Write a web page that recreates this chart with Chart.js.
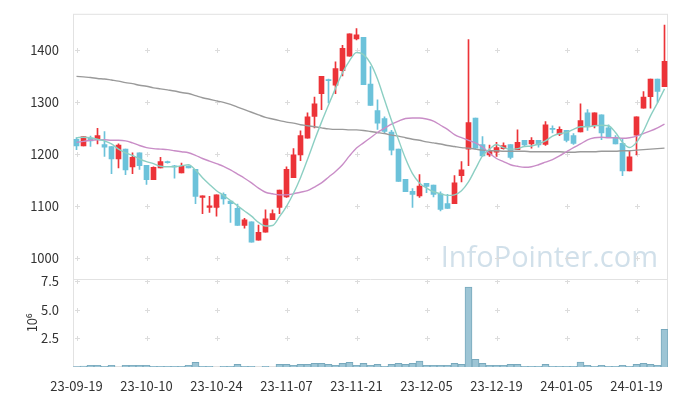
<!DOCTYPE html>
<html>
<head>
<meta charset="utf-8">
<script src="https://cdn.jsdelivr.net/npm/chart.js@4.4.0/dist/chart.umd.min.js"></script>
<style>
    html, body { margin: 0; padding: 0; background: #fff; }
    #wrap { width: 677px; height: 396px; }
</style>
</head>
<body>
<div id="wrap"><canvas id="grafico" width="677" height="396"></canvas></div>
<script>
var dates = ['23-09-19','23-09-20','23-09-21','23-09-22','23-09-25','23-09-26','23-09-27','23-10-04','23-10-05','23-10-06',
    '23-10-10','23-10-11','23-10-12','23-10-13','23-10-16','23-10-17','23-10-18','23-10-19','23-10-20','23-10-23',
    '23-10-24','23-10-25','23-10-26','23-10-27','23-10-30','23-10-31','23-11-01','23-11-02','23-11-03','23-11-06',
    '23-11-07','23-11-08','23-11-09','23-11-10','23-11-13','23-11-14','23-11-15','23-11-16','23-11-17','23-11-20',
    '23-11-21','23-11-22','23-11-23','23-11-24','23-11-27','23-11-28','23-11-29','23-11-30','23-12-01','23-12-04',
    '23-12-05','23-12-06','23-12-07','23-12-08','23-12-11','23-12-12','23-12-13','23-12-14','23-12-15','23-12-18',
    '23-12-19','23-12-20','23-12-21','23-12-22','23-12-26','23-12-27','23-12-28','24-01-02','24-01-03','24-01-04',
    '24-01-05','24-01-08','24-01-09','24-01-10','24-01-11','24-01-12','24-01-15','24-01-16','24-01-17','24-01-18',
    '24-01-19','24-01-22','24-01-23','24-01-24','24-01-25'];

var opens = [1229,1216,1231,1228,1219,1215,1191,1210,1176,1203,
    1179,1151,1174,1186,1178,1164,1177,1171,1117,1098,
    1098,1123,1110,1096,1063,1070,1035,1050,1074,1098,
    1118,1155,1199,1231,1273,1317,1344,1333,1361,1389,
    1422,1425,1335,1284,1269,1243,1210,1152,1129,1120,
    1144,1141,1124,1105,1105,1159,1210,1270,1219,1199,
    1204,1211,1219,1209,1227,1220,1227,1219,1250,1239,
    1246,1236,1243,1280,1255,1276,1251,1232,1221,1168,
    1237,1289,1311,1345,1330];
var highs = [1232,1234,1235,1250,1244,1215,1220,1210,1203,1203,
    1179,1176,1194,1187,1179,1183,1178,1171,1120,1119,
    1122,1126,1110,1104,1077,1070,1064,1093,1093,1131,
    1176,1211,1245,1280,1310,1350,1345,1378,1410,1432,
    1442,1425,1369,1305,1272,1246,1210,1152,1134,1161,
    1144,1141,1128,1123,1159,1186,1421,1270,1234,1218,
    1223,1222,1219,1247,1227,1232,1227,1263,1255,1253,
    1246,1240,1297,1286,1280,1276,1257,1236,1229,1206,
    1272,1321,1345,1345,1449];
var lows = [1209,1216,1215,1220,1196,1163,1174,1161,1163,1171,
    1142,1151,1174,1183,1154,1164,1174,1105,1086,1088,
    1081,1104,1069,1063,1058,1031,1035,1050,1074,1086,
    1117,1155,1188,1231,1251,1286,1299,1317,1351,1389,
    1420,1334,1294,1248,1240,1199,1148,1128,1098,1117,
    1126,1118,1091,1096,1105,1147,1178,1210,1196,1196,
    1196,1210,1191,1209,1216,1212,1214,1217,1241,1236,
    1224,1219,1243,1246,1251,1228,1234,1220,1159,1168,
    1199,1289,1289,1300,1330];
var closes = [1216,1234,1226,1236,1214,1191,1218,1170,1194,1178,
    1151,1175,1186,1184,1176,1177,1174,1119,1120,1101,
    1122,1114,1105,1063,1074,1031,1050,1076,1086,1131,
    1171,1199,1236,1272,1297,1350,1342,1365,1404,1432,
    1430,1334,1294,1260,1244,1208,1148,1128,1123,1139,
    1138,1123,1094,1096,1145,1170,1261,1212,1197,1206,
    1213,1217,1194,1223,1218,1227,1218,1257,1248,1248,
    1227,1221,1265,1255,1280,1241,1234,1220,1168,1195,
    1272,1310,1345,1321,1379];

// volume in millions (10^6)
var volumes = [0.04,0.09,0.14,0.14,0.06,0.14,0,0.14,0.14,0.14,
    0.14,0.06,0.06,0.06,0.06,0.06,0.14,0.40,0.06,0.06,
    0,0.06,0.06,0.23,0.06,0.06,0,0.06,0,0.23,
    0.23,0.14,0.23,0.23,0.32,0.32,0.23,0.14,0.32,0.40,
    0.14,0.32,0.14,0.23,0.06,0.23,0.32,0.23,0.32,0.52,
    0.14,0.14,0.14,0.14,0.32,0.23,6.98,0.66,0.32,0.14,
    0.14,0.14,0.23,0.23,0.06,0.06,0.06,0.23,0.06,0.06,
    0.06,0.06,0.43,0.14,0.06,0.14,0.06,0.06,0.14,0.06,
    0.23,0.32,0.23,0.14,3.28];

// moving averages
var ma5 = [1232,1233,1232,1229,1226,1220,1210,1203,1198,1191,
    1186,1182,1177,1176,1176,1178,1180,1170,1155,1142,
    1130,1121,1111,1101,1091,1081,1069,1062,1063,1080,
    1100,1125,1155,1190,1227,1262,1295,1327,1357,1380,
    1396,1392,1375,1345,1305,1265,1228,1192,1163,1145,
    1135,1128,1124,1121,1122,1130,1147,1172,1197,1210,
    1219,1213,1210,1211,1215,1216,1220,1226,1235,1240,
    1242,1248,1253,1253,1255,1256,1255,1242,1223,1213,
    1223,1245,1274,1299,1326];
var ma20 = [1223,1225,1227,1228,1228,1227,1227,1226,1222,1217,
    1213,1211,1210,1209,1207,1205,1203,1198,1192,1187,
    1182,1177,1170,1162,1154,1145,1135,1127,1124,1122,
    1122,1124,1127,1130,1137,1145,1156,1167,1180,1197,
    1212,1222,1232,1242,1250,1258,1264,1269,1270,1270,
    1268,1264,1256,1248,1238,1232,1227,1222,1214,1202,
    1192,1186,1180,1177,1175,1176,1180,1185,1190,1197,
    1205,1213,1220,1228,1232,1233,1232,1232,1231,1232,
    1235,1240,1245,1251,1258];
var ma120 = [1350,1349,1348,1346,1345,1343,1341,1338,1336,1333,
    1331,1328,1326,1324,1322,1319,1317,1313,1309,1306,
    1303,1300,1296,1291,1286,1281,1276,1271,1268,1265,
    1262,1260,1257,1255,1253,1251,1249,1248,1248,1247,
    1247,1246,1244,1242,1240,1237,1235,1232,1229,1227,
    1224,1222,1220,1217,1215,1213,1212,1210,1208,1207,
    1207,1206,1206,1206,1206,1205,1205,1205,1205,1205,
    1204,1204,1205,1205,1205,1206,1206,1206,1207,1207,
    1208,1209,1210,1211,1212];

var priceTicks = [1000, 1100, 1200, 1300, 1400];
var volumeTicks = [2.5, 5.0, 7.5];

var corAlta = '#ec3338';
var corBaixa = '#6cc2da';

var cores = closes.map(function (c, i) { return c >= opens[i] ? corAlta : corBaixa; });
var corpos = opens.map(function (o, i) { return [o, closes[i]]; });
var pavios = lows.map(function (l, i) { return [l, highs[i]]; });

var fonte = '"Noto Sans CJK KR", "Noto Sans", sans-serif';

// border, separator, cross-shaped grid and watermark
var moldura = {
    id: 'moldura',
    beforeDatasetsDraw: function (chart) {
        var ctx = chart.ctx;
        var a = chart.chartArea;
        var sx = chart.scales.x, sy = chart.scales.y, sv = chart.scales.yv;
        ctx.save();

        ctx.fillStyle = 'rgba(184, 208, 222, 0.65)';
        ctx.font = '30px "Open Sans"';
        var w = ctx.measureText('InfoPointer.com').width;
        var size = 30 * 217 / w;
        ctx.font = size.toFixed(1) + 'px "Open Sans"';
        ctx.textAlign = 'right';
        ctx.textBaseline = 'alphabetic';
        ctx.fillText('InfoPointer.com', a.right - 10, sy.bottom - 12);

        ctx.strokeStyle = '#dcdcdc';
        ctx.lineWidth = 1;
        var ys = priceTicks.map(function (v) { return sy.getPixelForValue(v); })
            .concat(volumeTicks.map(function (v) { return sv.getPixelForValue(v); }));
        for (var i = 0; i < dates.length; i += 10) {
            var px = Math.round(sx.getPixelForValue(i)) + 0.5;
            ys.forEach(function (py) {
                py = Math.round(py) + 0.5;
                ctx.beginPath();
                ctx.moveTo(px - 2.5, py); ctx.lineTo(px + 2.5, py);
                ctx.moveTo(px, py - 2.5); ctx.lineTo(px, py + 2.5);
                ctx.stroke();
            });
        }

        ctx.strokeStyle = '#e2e2e2';
        ctx.strokeRect(a.left + 0.5, a.top + 0.5, a.right - a.left - 1, a.bottom - a.top - 1);
        var sep = Math.round(sy.bottom) + 0.5;
        ctx.beginPath();
        ctx.moveTo(a.left, sep);
        ctx.lineTo(a.right, sep);
        ctx.stroke();
        ctx.restore();
    }
};

function larguraFixa(scale) { scale.width = 73; }

var ctx = document.getElementById('grafico').getContext('2d');
var grafico = new Chart(ctx, {
    type: 'bar',
    data: {
        labels: dates,
        datasets: [
            { type: 'line', data: ma5, yAxisID: 'y', borderColor: '#8ccfc3', borderWidth: 1.4, pointRadius: 0, cubicInterpolationMode: 'monotone', order: 0 },
            { type: 'line', data: ma20, yAxisID: 'y', borderColor: '#c98dc7', borderWidth: 1.4, pointRadius: 0, cubicInterpolationMode: 'monotone', order: 0 },
            { type: 'line', data: ma120, yAxisID: 'y', borderColor: '#9a9a9a', borderWidth: 1.4, pointRadius: 0, cubicInterpolationMode: 'monotone', order: 0 },
            { data: corpos, yAxisID: 'y', backgroundColor: cores, barThickness: 5, minBarLength: 1, grouped: false, order: 1 },
            { data: pavios, yAxisID: 'y', backgroundColor: cores, barThickness: 1, grouped: false, order: 2 },
            { data: volumes, yAxisID: 'yv', backgroundColor: '#9dc5d5', borderColor: '#78a9bd', borderWidth: 1,
              barPercentage: 1, categoryPercentage: 1, grouped: false, order: 3 }
        ]
    },
    plugins: [moldura],
    options: {
        responsive: false,
        animation: false,
        devicePixelRatio: 1,
        layout: { padding: { top: 10, right: 9, left: 0, bottom: 0 } },
        plugins: {
            legend: { display: false },
            tooltip: { enabled: false }
        },
        scales: {
            x: {
                offset: true,
                grid: { display: false },
                border: { display: false },
                afterFit: function (scale) { scale.height = 29; },
                ticks: {
                    autoSkip: false,
                    maxRotation: 0,
                    padding: 3,
                    color: '#333',
                    font: { family: fonte, size: 13 },
                    callback: function (value, index) {
                        return index % 10 === 0 ? dates[index] : '';
                    }
                }
            },
            yv: {
                type: 'linear',
                position: 'left',
                stack: 'pilha',
                stackWeight: 1,
                min: 0,
                max: 7.7,
                grid: { display: false },
                border: { display: false },
                afterFit: larguraFixa,
                afterBuildTicks: function (scale) {
                    scale.ticks = volumeTicks.map(function (v) { return { value: v }; });
                },
                title: {
                    display: true,
                    text: '10\u2076',
                    color: '#333',
                    font: { family: fonte, size: 13 },
                    padding: { top: 24, bottom: 0 }
                },
                ticks: {
                    padding: 6,
                    color: '#333',
                    font: { family: fonte, size: 13 },
                    callback: function (value) { return Number(value).toFixed(1); }
                }
            },
            y: {
                type: 'linear',
                position: 'left',
                stack: 'pilha',
                stackWeight: 3,
                min: 960.6,
                max: 1470.5,
                grid: { display: false },
                border: { display: false },
                afterFit: larguraFixa,
                afterBuildTicks: function (scale) {
                    scale.ticks = priceTicks.map(function (v) { return { value: v }; });
                },
                ticks: {
                    padding: 6,
                    color: '#333',
                    font: { family: fonte, size: 13 },
                    callback: function (value) { return String(value); }
                }
            }
        }
    }
});
</script>
</body>
</html>
